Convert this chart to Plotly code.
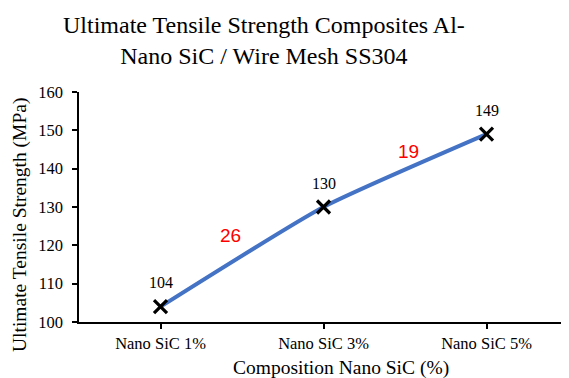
import plotly.graph_objects as go

categories = ["Nano SiC 1%", "Nano SiC 3%", "Nano SiC 5%"]
uts_values = [104, 130, 149]
increase_labels = ["26", "19"]
increase_x = [0.43, 1.52]
increase_y = [122.6, 144.5]

serif = "Liberation Serif, Times New Roman, serif"

# page body has an 8px margin; compensate so the plot lands where the reference has it
W, H = 561, 370
L, R, T, B = 71, 1, 84, 56
PH = H - T - B  # plot height in px
PW = W - L - R

def px_to_paper_y(page_y):
    fig_y = page_y - 8
    return (H - B - fig_y) / PH

def px_to_paper_x(page_x):
    fig_x = page_x - 8
    return (fig_x - L) / PW

fig = go.Figure()
fig.add_trace(go.Scatter(
    x=[0, 1, 2], y=uts_values,
    mode="lines+markers",
    line=dict(color="#4472C4", width=4, shape="spline", smoothing=0.5),
    marker=dict(symbol="x-thin", size=13, line=dict(color="black", width=3.2), color="black"),
    cliponaxis=False,
    showlegend=False,
))

# data labels
for i, v in enumerate(uts_values):
    fig.add_annotation(x=i, y=v, text=str(v), showarrow=False, yshift=24,
                       xanchor="center", yanchor="middle",
                       font=dict(family=serif, size=16, color="black"))

for lab, xx, yy in zip(increase_labels, increase_x, increase_y):
    fig.add_annotation(x=xx, y=yy, text=lab, showarrow=False,
                       font=dict(family="Liberation Sans, Arial, sans-serif", size=19, color="#FF0000"))

# chart title
fig.add_annotation(xref="paper", yref="paper", x=px_to_paper_x(264), y=px_to_paper_y(41),
                   xanchor="center", yanchor="middle", showarrow=False,
                   text="Ultimate Tensile Strength Composites Al-<br>Nano SiC / Wire Mesh SS304",
                   font=dict(family=serif, size=24, color="black"))
# axis titles
fig.add_annotation(xref="paper", yref="paper", x=px_to_paper_x(341), y=px_to_paper_y(368),
                   xanchor="center", yanchor="middle", showarrow=False,
                   text="Composition Nano SiC (%)",
                   font=dict(family=serif, size=19.5, color="black"))
fig.add_annotation(xref="paper", yref="paper", x=px_to_paper_x(20), y=px_to_paper_y(225),
                   xanchor="center", yanchor="middle", showarrow=False, textangle=-90,
                   text="Ultimate Tensile Strength (MPa)",
                   font=dict(family=serif, size=19.5, color="black"))

fig.update_layout(
    width=W, height=H,
    margin=dict(l=L, r=R, t=T, b=B),
    paper_bgcolor="white", plot_bgcolor="white",
    xaxis=dict(range=[-0.5, 2.5], tickmode="array", tickvals=[0, 1, 2], ticktext=categories,
               showgrid=False, zeroline=False, showline=True, linecolor="black", linewidth=1.5,
               ticks="outside", ticklen=5, tickcolor="black", tickwidth=1.5,
               tickfont=dict(family=serif, size=16.5, color="black")),
    yaxis=dict(range=[100, 160], dtick=10, showgrid=False, zeroline=False,
               showline=True, linecolor="black", linewidth=1.5,
               ticks="outside", ticklen=5, tickcolor="black", tickwidth=1.5,
               ticklabelstandoff=6,
               tickfont=dict(family=serif, size=16.5, color="black")),
)

fig.write_html("out.html")
